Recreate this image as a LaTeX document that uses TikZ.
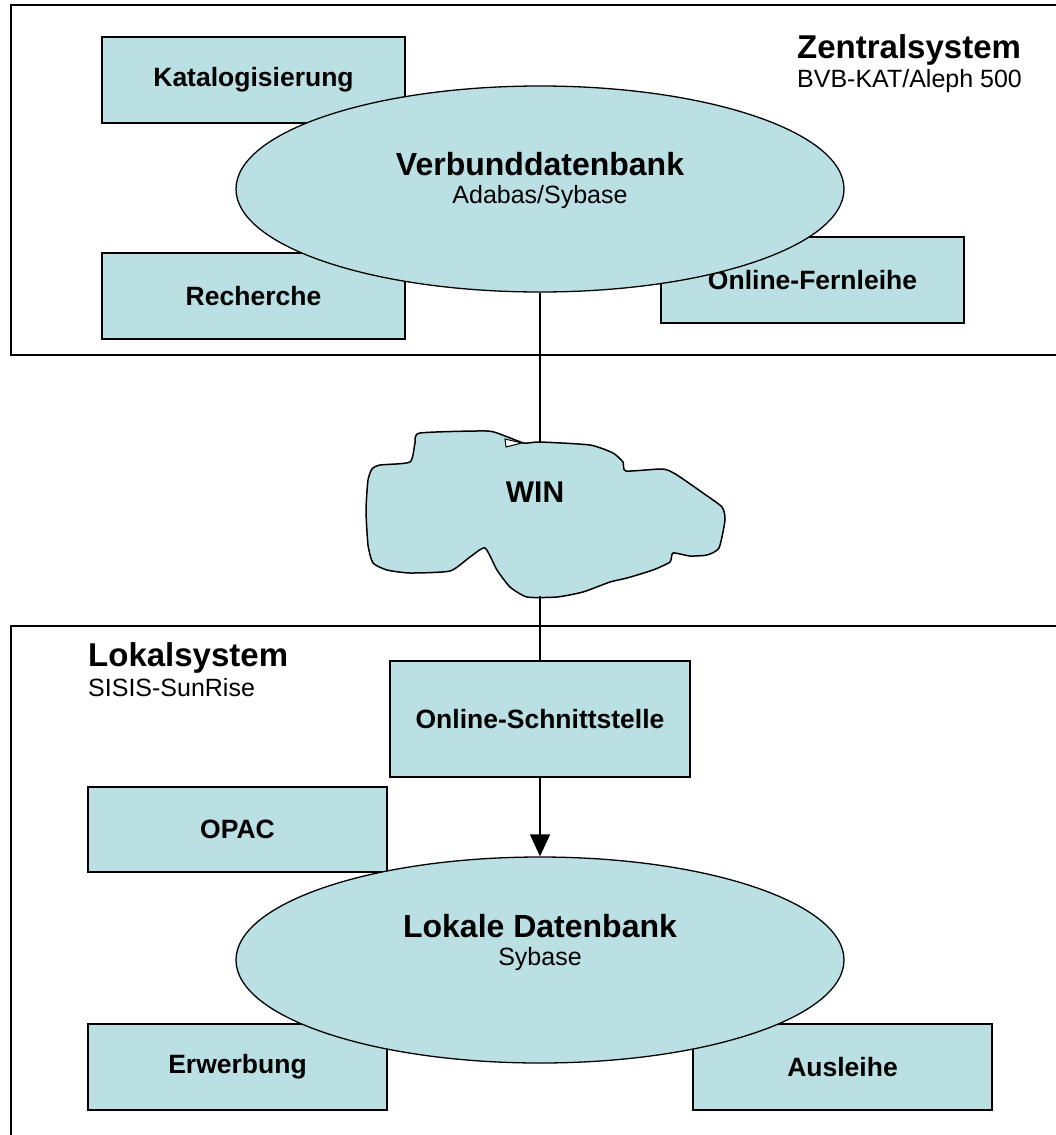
\documentclass[tikz,border=0pt]{standalone}
\usepackage{fontspec}
\setmainfont{Liberation Sans}
\usetikzlibrary{shapes.geometric,arrows.meta}
\definecolor{boxfill}{HTML}{BBE0E3}
\begin{document}
\begin{tikzpicture}[x=1pt,y=-1pt,
  box/.style={draw=black, line width=1.8pt, fill=boxfill, minimum width=303pt, minimum height=86pt, inner sep=0pt, font=\bfseries\fontsize{26.5}{30}\selectfont},
  db/.style={ellipse, draw=black, line width=1.3pt, fill=boxfill, minimum width=608pt, minimum height=206pt, align=center, inner sep=0pt, font=\fontsize{25}{28}\selectfont},
  frame/.style={draw=black, line width=2pt},
  link/.style={draw=black, line width=1.5pt},
  title/.style={anchor=base west, inner sep=0pt, font=\bfseries\fontsize{33}{36}\selectfont},
  subtitle/.style={anchor=base west, inner sep=0pt, font=\fontsize{25}{28}\selectfont}
]
\useasboundingbox (0,0) rectangle (1056,1135);
\clip (0,0) rectangle (1056,1135);
% frames
\draw[frame] (11,5) rectangle (1080,355);
\draw[frame] (11,626) rectangle (1080,1160);
% Zentralsystem
\node[box] (kat) at (253.5,80) {Katalogisierung};
\node[box] (rech) at (253.5,296) {Recherche};
\node[box] (fern) at (812.5,280) {Online-Fernleihe};
\node[db] (vdb) at (540,189) {{\bfseries\fontsize{32}{36}\selectfont Verbunddatenbank}\\Adabas/Sybase\rule[-23pt]{0pt}{0pt}};
\node[title] (zs) at (797,58) {Zentralsystem};
\node[subtitle] (zss) at (797,87) {BVB-KAT/Aleph 500};
% WIN cloud
\coordinate (wintop) at (540,443);
\coordinate (winbot) at (540,596);
\draw[link] (vdb.south) -- (wintop);
\draw[line width=1.5pt, fill=boxfill] plot[smooth cycle, tension=0.35] coordinates {
 (420,433) (487,431) (505,436) (524,443) (540,442) (590,445) (613,453) (623,462) (626,471)
 (663,469) (677,475) (703,493) (722,507) (725,520) (719,548) (707,555) (690,556) (673,553)
 (670,562) (653,570) (627,578) (610,582) (583,592) (557,597) (527,597) (510,587) (497,570)
 (485,548) (470,557) (450,571) (410,573) (387,570) (373,563) (368,545) (366,510) (368,480)
 (372,469) (380,465) (410,462) (415,443)};
\draw[line width=1pt, fill=white] (505,439) -- (522,443) -- (506,447) -- cycle;
\node[inner sep=0pt, font=\bfseries\fontsize{30}{32}\selectfont] (win) at (535,492) {WIN};
% Lokalsystem
\node[title] (ls) at (88,666) {Lokalsystem};
\node[subtitle] (lss) at (88,696) {SISIS-SunRise};
\node[box, minimum width=300pt, minimum height=116pt] (ons) at (540,719) {Online-Schnittstelle};
\draw[link] (winbot) -- (ons.north);
\node[box, minimum width=299pt, minimum height=85pt] (opac) at (237.5,829.5) {OPAC};
\node[box, minimum width=299pt, minimum height=86pt] (erw) at (237.5,1067) {Erwerbung};
\node[box, minimum width=299pt, minimum height=86pt] (aus) at (842.5,1067) {Ausleihe};
\node[db] (ldb) at (540,960) {{\bfseries\fontsize{32}{36}\selectfont Lokale Datenbank}\\Sybase\rule[-40pt]{0pt}{0pt}};
\draw[link, -{Triangle[width=20pt,length=22pt]}] (ons.south) -- (ldb.north);
\end{tikzpicture}
\end{document}
